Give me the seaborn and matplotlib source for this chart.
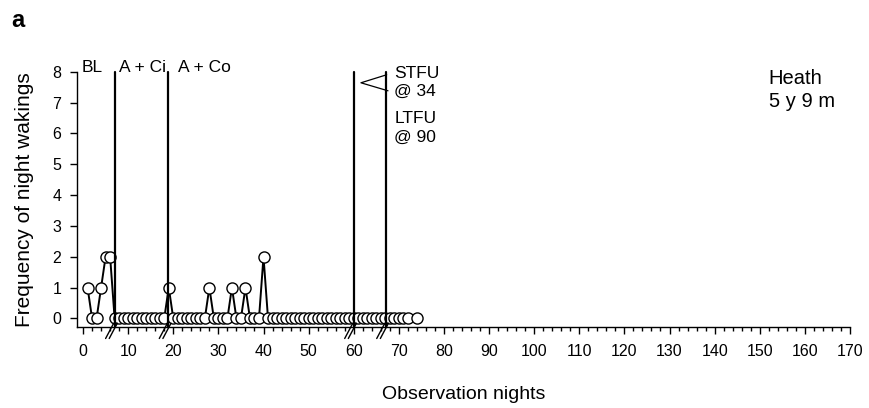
import matplotlib
matplotlib.use('Agg')
import matplotlib.pyplot as plt
import seaborn as sns
import pandas as pd
from matplotlib.transforms import blended_transform_factory

# ---- data ----
nights = [1, 2, 3, 4, 5, 6, 7, 8, 9, 10, 11, 12, 13, 14, 15, 16, 17, 18, 19, 20,
          21, 22, 23, 24, 25, 26, 27, 28, 29, 30, 31, 32, 33, 34, 35, 36, 37, 38, 39, 40,
          41, 42, 43, 44, 45, 46, 47, 48, 49, 50, 51, 52, 53, 54, 55, 56, 57, 58, 59, 60,
          61, 62, 63, 64, 65, 66, 67, 68, 69, 70, 71, 72, 74]
wakings = [1, 0, 0, 1, 2, 2, 0, 0, 0, 0, 0, 0, 0, 0, 0, 0, 0, 0, 1, 0,
           0, 0, 0, 0, 0, 0, 0, 1, 0, 0, 0, 0, 1, 0, 0, 1, 0, 0, 0, 2,
           0, 0, 0, 0, 0, 0, 0, 0, 0, 0, 0, 0, 0, 0, 0, 0, 0, 0, 0, 0,
           0, 0, 0, 0, 0, 0, 0, 0, 0, 0, 0, 0, 0]
phase_lines = [7.0, 18.9, 60.0, 67.1]
phase_labels = ["BL", "A + Ci", "A + Co"]
phase_label_x = [-0.4, 8.0, 21.0]
x_ticks = list(range(0, 171, 10))
y_ticks = [0, 1, 2, 3, 4, 5, 6, 7, 8]

df = pd.DataFrame({"night": nights, "wakings": wakings})

sns.set_style("ticks")
plt.rcParams["font.family"] = ["Liberation Sans", "DejaVu Sans"]
plt.rcParams.update({"text.color": "black", "axes.labelcolor": "black",
                     "xtick.color": "black", "ytick.color": "black"})

fig = plt.figure(figsize=(8.69, 4.08), dpi=100)
ax = fig.add_axes([0.0883, 0.1985, 0.9781 - 0.0883, 0.8243 - 0.1985])

sns.lineplot(data=df, x="night", y="wakings", ax=ax, color="black", lw=1.4,
             marker="o", markersize=8, markerfacecolor="white",
             markeredgecolor="black", markeredgewidth=1.0, clip_on=False, zorder=3)

ax.set_xlim(-1.4, 170)
ax.set_ylim(-0.28, 8)
ax.set_xticks(x_ticks)
ax.set_xticks(list(range(0, 171, 2)), minor=True)
ax.set_yticks(y_ticks)
ax.tick_params(axis="both", which="major", direction="out", length=5, width=1,
               labelsize=11.5, colors="black")
ax.tick_params(axis="x", which="minor", direction="out", length=3, width=1)
ax.tick_params(axis="x", which="major", pad=7)
ax.tick_params(axis="y", which="major", pad=6)
for s in ["top", "right"]:
    ax.spines[s].set_visible(False)
for s in ["left", "bottom"]:
    ax.spines[s].set_linewidth(1.0)
    ax.spines[s].set_color("black")

ax.set_xlabel("Observation nights", fontsize=14, labelpad=20)
ax.set_ylabel("Frequency of night wakings", fontsize=15, labelpad=13)

# phase change lines
for xl in phase_lines:
    ax.plot([xl, xl], [-0.28, 8], color="black", lw=1.6, zorder=4, clip_on=False)

# axis break marks
trans = blended_transform_factory(ax.transData, ax.transAxes)
for xl in phase_lines:
    for off in (0.0, 0.8):
        ax.plot([xl - 2.0 + off, xl - 0.2 + off], [-0.045, 0.015], color="black",
                lw=1.0, transform=trans, clip_on=False, zorder=5)

# phase labels
for lab, lx in zip(phase_labels, phase_label_x):
    ax.text(lx, 8.13, lab, fontsize=12.5, ha="left", va="center", clip_on=False)

ax.text(69.0, 7.65, "STFU\n@ 34", fontsize=12.5, ha="left", va="center", linespacing=1.3)
ax.text(69.0, 6.18, "LTFU\n@ 90", fontsize=12.5, ha="left", va="center", linespacing=1.3)
ax.plot([67.3, 61.6, 67.6], [7.9, 7.64, 7.38], color="black", lw=0.9, zorder=5)

ax.text(152.0, 7.4, "Heath\n5 y 9 m", fontsize=14.5, ha="left", va="center", linespacing=1.3)

fig.text(0.013, 0.95, "a", fontsize=17, fontweight="bold", ha="left", va="center")

fig.savefig("out.png", dpi=100)
